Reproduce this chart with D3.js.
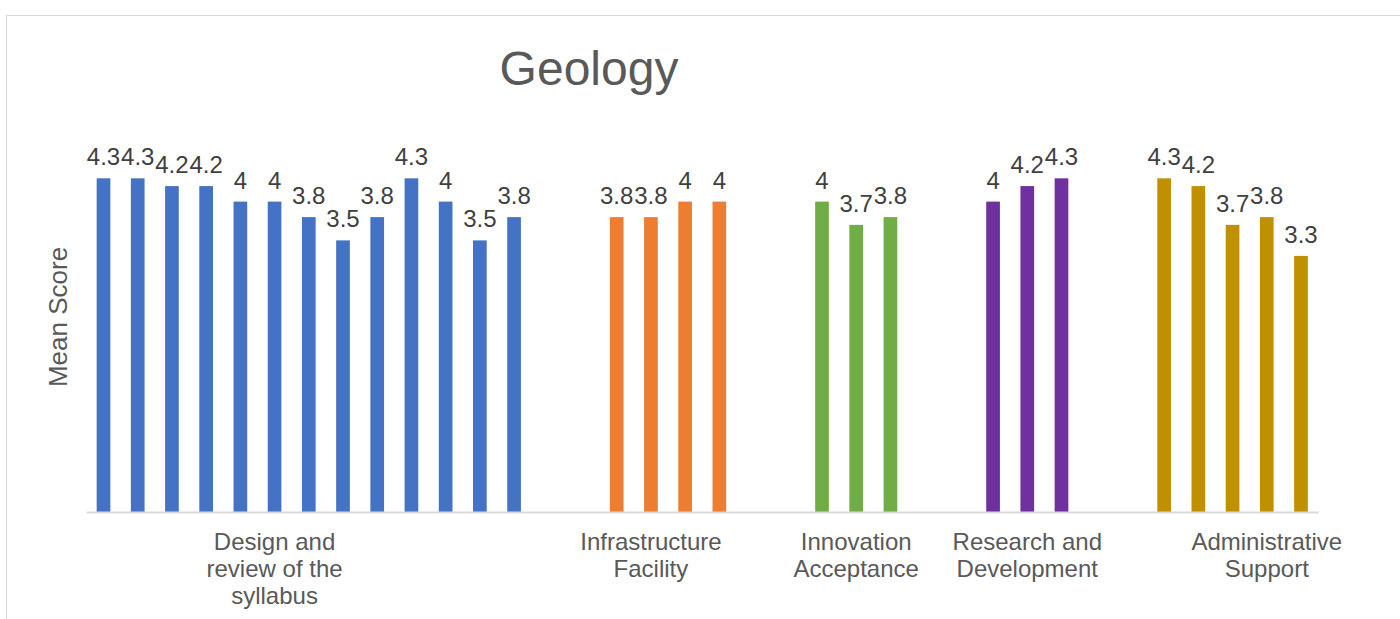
<!DOCTYPE html>
<html lang="en">
<head>
    <meta charset="UTF-8">
    <title>Geology</title>
    <style>
        body {
            margin: 0;
            background: #ffffff;
            overflow: hidden;
        }
        svg text {
            font-family: "Liberation Sans", Arial, sans-serif;
        }
        .value-label {
            fill: #404040;
            font-size: 24px;
        }
        .cat-label {
            fill: #595959;
            font-size: 24px;
        }
    </style>
</head>
<body>
    <svg id="chart" width="1400" height="619"></svg>

    <script src="https://d3js.org/d3.v7.min.js"></script>
    <script>
        // Data
        const groupNames = [
            ["Design and", "review of the", "syllabus"],
            ["Infrastructure", "Facility"],
            ["Innovation", "Acceptance"],
            ["Research and", "Development"],
            ["Administrative", "Support"]
        ];
        const designValues = [4.3, 4.3, 4.2, 4.2, 4, 4, 3.8, 3.5, 3.8, 4.3, 4, 3.5, 3.8];
        const infraValues = [3.8, 3.8, 4, 4];
        const innovationValues = [4, 3.7, 3.8];
        const researchValues = [4, 4.2, 4.3];
        const adminValues = [4.3, 4.2, 3.7, 3.8, 3.3];
        // which bar in each group carries the category label
        const labelAt = [5, 1, 1, 1, 3];

        const groupColors = ["#4472C4", "#ED7D31", "#70AD47", "#7030A0", "#BF9000"];
        const groupValues = [designValues, infraValues, innovationValues, researchValues, adminValues];

        // lay out slots: each bar is a slot, two empty slots between groups
        const slots = [];
        const bars = [];
        groupValues.forEach((vals, g) => {
            if (g > 0) { slots.push("gap" + g + "a", "gap" + g + "b"); }
            vals.forEach((v, i) => {
                const key = "g" + g + "_" + i;
                slots.push(key);
                bars.push({ key: key, group: g, index: i, value: v });
            });
        });

        const svg = d3.select("#chart");

        // outer chart frame (runs off the right and bottom edges)
        svg.append("rect")
            .attr("x", 6.5)
            .attr("y", 15.5)
            .attr("width", 1500)
            .attr("height", 700)
            .attr("fill", "none")
            .attr("stroke", "#d9d9d9")
            .attr("stroke-width", 1);

        const x = d3.scaleBand()
            .domain(slots)
            .range([86.4, 1318.1])
            .paddingInner(0.6)
            .paddingOuter(0.3);

        const y = d3.scaleLinear()
            .domain([0, 5])
            .range([512, 124]);

        // bars
        svg.append("g")
            .selectAll("rect")
            .data(bars)
            .join("rect")
            .attr("x", d => x(d.key))
            .attr("y", d => y(d.value))
            .attr("width", x.bandwidth())
            .attr("height", d => y(0) - y(d.value))
            .attr("fill", d => groupColors[d.group]);

        // x axis baseline
        const xAxis = svg.append("g")
            .attr("transform", `translate(0,${y(0)})`)
            .call(d3.axisBottom(x).tickSize(0).tickFormat(""));
        xAxis.select(".domain")
            .attr("stroke", "#d9d9d9")
            .attr("stroke-width", 2);

        // value labels
        svg.append("g")
            .selectAll("text")
            .data(bars)
            .join("text")
            .attr("class", "value-label")
            .attr("x", d => x(d.key) + x.bandwidth() / 2)
            .attr("y", d => y(d.value) - 13)
            .attr("text-anchor", "middle")
            .text(d => d.value);

        // category labels
        const cats = svg.append("g");
        groupNames.forEach((lines, g) => {
            const key = "g" + g + "_" + labelAt[g];
            const t = cats.append("text")
                .attr("class", "cat-label")
                .attr("text-anchor", "middle")
                .attr("x", x(key) + x.bandwidth() / 2)
                .attr("y", 550);
            lines.forEach((line, i) => {
                t.append("tspan")
                    .attr("x", x(key) + x.bandwidth() / 2)
                    .attr("dy", i === 0 ? 0 : 27)
                    .text(line);
            });
        });

        // title
        svg.append("text")
            .attr("x", 589)
            .attr("y", 85)
            .attr("text-anchor", "middle")
            .style("font-size", "48px")
            .style("fill", "#595959")
            .text("Geology");

        // y axis title
        svg.append("text")
            .attr("transform", "rotate(-90)")
            .attr("x", -317)
            .attr("y", 67)
            .attr("text-anchor", "middle")
            .style("font-size", "26px")
            .style("fill", "#595959")
            .text("Mean Score");
    </script>
</body>
</html>
